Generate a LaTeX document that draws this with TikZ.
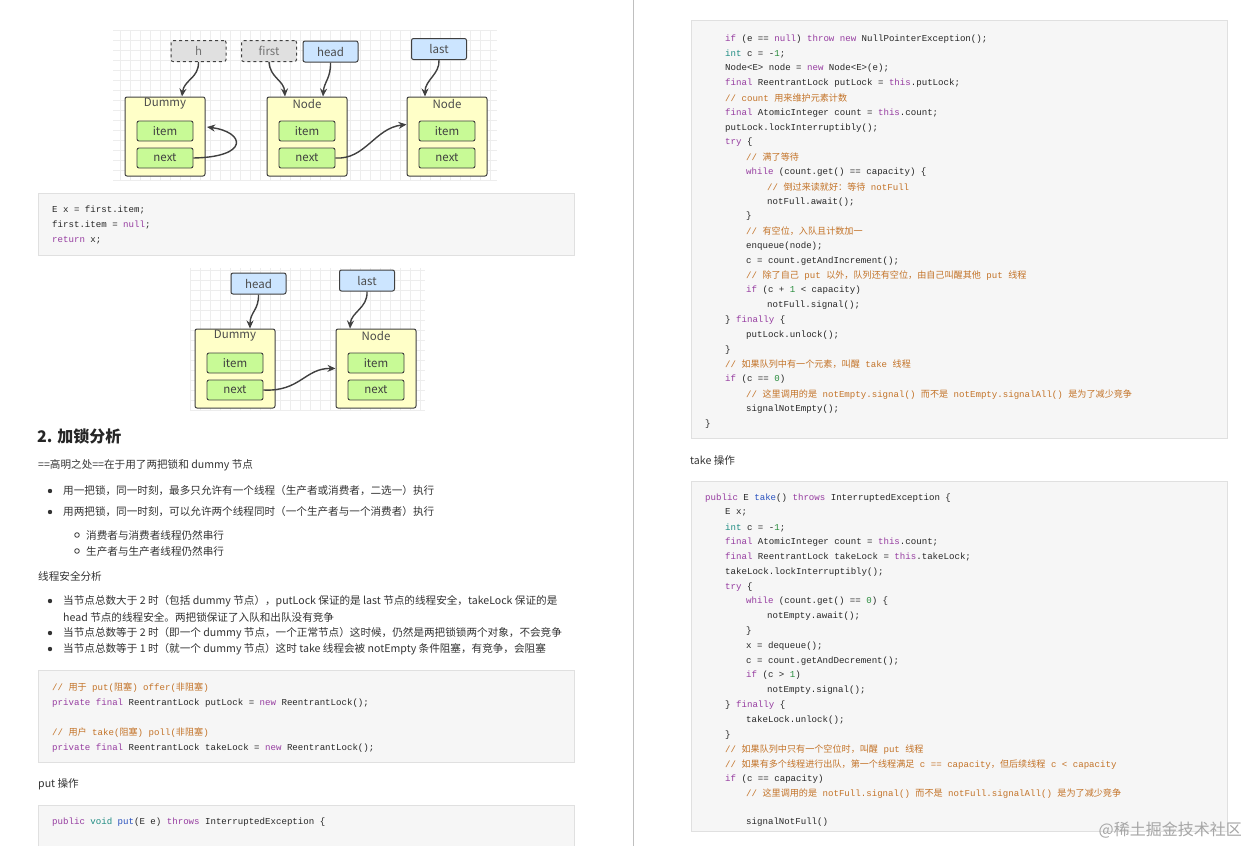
\documentclass[tikz,border=0pt]{standalone}
\usepackage{fontspec}
\setmainfont{Noto Sans CJK SC}
\setmonofont{Liberation Mono}
\newfontfamily\cjk{Noto Sans CJK SC}
\usetikzlibrary{arrows.meta}
\definecolor{kw}{RGB}{150,60,160}
\definecolor{ty}{RGB}{30,140,130}
\definecolor{cm}{RGB}{195,115,40}
\definecolor{fn}{RGB}{40,80,190}
\definecolor{nm}{RGB}{40,140,60}
\definecolor{txt}{RGB}{51,51,51}
\newcommand\zh[1]{{\cjk #1}}
\newcommand\Kw[1]{\textcolor{kw}{#1}}
\newcommand\Ty[1]{\textcolor{ty}{#1}}
\newcommand\Cm[1]{\textcolor{cm}{#1}}
\newcommand\Fn[1]{\textcolor{fn}{#1}}
\newcommand\Nm[1]{\textcolor{nm}{#1}}
\newcounter{ln}
\newcommand\cl[3]{\stepcounter{ln}\edef\myname{cl\arabic{ln}}\node[code] (\myname) at (#1,#2) {#3};}
\newcommand\tl[3]{\stepcounter{ln}\edef\myname{tl\arabic{ln}}\node[body] (\myname) at (#1,#2) {#3};}
\tikzset{
  code/.style={anchor=west,inner sep=0pt,font=\ttfamily\fontsize{9.1}{10}\selectfont,text=black!85},
  body/.style={anchor=west,inner sep=0pt,font=\fontsize{10.6}{11}\selectfont,text=txt},
  ptr/.style={draw=black!75,line width=1pt,rounded corners=2pt,minimum width=55pt,minimum height=21pt,inner sep=0pt,font=\fontsize{11.5}{11}\selectfont,text=black!70},
  ptrd/.style={ptr,dashed,fill=black!12,text=black!55},
  ptrb/.style={ptr,fill={rgb,255:red,204;green,229;blue,255}},
  outer/.style={draw=black!75,line width=1pt,rounded corners=2pt,fill={rgb,255:red,255;green,255;blue,200},minimum width=80pt,minimum height=79pt,inner sep=0pt},
  field/.style={draw=black!75,line width=0.9pt,rounded corners=2pt,fill={rgb,255:red,200;green,250;blue,150},minimum width=56pt,minimum height=20pt,inner sep=0pt,font=\fontsize{11.5}{11}\selectfont,text=black!75},
  ttl/.style={inner sep=0pt,font=\fontsize{11.5}{11}\selectfont,text=black!70},
  arr/.style={draw=black!75,line width=1.4pt,-{Stealth[length=8pt,width=7pt]}},
  box/.style={draw=black!12,fill=black!3.5,line width=1pt},
  grid/.style={draw=black!7,line width=0.4pt}
}
\begin{document}
\begin{tikzpicture}[x=1pt,y=-1pt]
\useasboundingbox (0,0) rectangle (1248,846);
\fill[white] (0,0) rectangle (1248,846);
\draw[black!25,line width=1pt] (633,0) -- (633,846);

% ---------- diagram 1 ----------
\begin{scope}
\clip (113,30) rectangle (497,180);
\draw[grid,step=10pt] (113,30) grid (497,180);
\end{scope}
\node[ptrd] (h) at (198.5,51) {h};
\node[ptrd] (first) at (269,51) {first};
\node[ptrb] (head1) at (330.5,51.5) {head};
\node[ptrb] (last1) at (439,49) {last};
\node[outer] (d1) at (165,136.5) {};
\node[ttl] (d1t) at (165,104) {Dummy};
\node[field] (d1i) at (165,131) {item};
\node[field] (d1n) at (165,158) {next};
\node[outer] (n2) at (307,136.5) {};
\node[ttl] (n2t) at (307,104) {Node};
\node[field] (n2i) at (307,131) {item};
\node[field] (n2n) at (307,158) {next};
\node[outer] (n3) at (447,136.5) {};
\node[ttl] (n3t) at (447,104) {Node};
\node[field] (n3i) at (447,131) {item};
\node[field] (n3n) at (447,158) {next};
\draw[arr] (h.south) .. controls (199,78) and (184,80) .. ([xshift=17pt]d1.north);
\draw[arr] (first.south) .. controls (270,78) and (284,80) .. ([xshift=-22pt]n2.north);
\draw[arr] (head1.south) .. controls (331,78) and (324,82) .. ([xshift=16pt]n2.north);
\draw[arr] (last1.south) .. controls (440,74) and (425,80) .. ([xshift=-22pt]n3.north);
\coordinate (loopEnd) at (207,127);
\draw[arr] (d1n.east) .. controls (250,157) and (245,132) .. (loopEnd);
\draw[arr] (n2n.east) .. controls (365,160) and (375,128) .. ([yshift=12pt]n3.west);

% ---------- code box 1 ----------
\draw[box] (38,193) rectangle (574,255);
\cl{52}{210}{E x = first.item;}
\cl{52}{225}{first.item = \Kw{null};}
\cl{52}{240}{\Kw{return} x;}

% ---------- diagram 2 ----------
\begin{scope}
\clip (190,268) rectangle (425,410);
\draw[grid,step=10pt] (190,268) grid (425,410);
\end{scope}
\node[ptrb] (head2) at (258.5,283.5) {head};
\node[ptrb] (last2) at (367,280.5) {last};
\node[outer] (d2) at (235,368.5) {};
\node[ttl] (d2t) at (235,336) {Dummy};
\node[field] (d2i) at (235,363) {item};
\node[field] (d2n) at (235,390) {next};
\node[outer] (n4) at (376,368.5) {};
\node[ttl] (n4t) at (376,336) {Node};
\node[field] (n4i) at (376,363) {item};
\node[field] (n4n) at (376,390) {next};
\draw[arr] (head2.south) .. controls (259,310) and (250,312) .. ([xshift=15pt]d2.north);
\draw[arr] (last2.south) .. controls (368,308) and (351,312) .. ([xshift=-26pt]n4.north);
\draw[arr] (d2n.east) .. controls (300,392) and (305,368) .. (n4.west);

% ---------- left text ----------
\node[anchor=west,inner sep=0pt,font=\bfseries\fontsize{16}{16}\selectfont,text=black!85] (hd) at (37,436) {2. 加锁分析};
\tl{38}{465}{==高明之处==在于用了两把锁和 dummy 节点}
\fill[txt] (50,491) circle (2.2pt);
\tl{63}{491}{用一把锁，同一时刻，最多只允许有一个线程（生产者或消费者，二选一）执行}
\fill[txt] (50,512) circle (2.2pt);
\tl{63}{512}{用两把锁，同一时刻，可以允许两个线程同时（一个生产者与一个消费者）执行}
\draw[txt,line width=0.8pt] (77,535) circle (2.3pt);
\tl{86}{535}{消费者与消费者线程仍然串行}
\draw[txt,line width=0.8pt] (77,551) circle (2.3pt);
\tl{86}{551}{生产者与生产者线程仍然串行}
\tl{38}{576}{线程安全分析}
\fill[txt] (50,601) circle (2.2pt);
\tl{63}{601}{当节点总数大于 2 时（包括 dummy 节点），putLock 保证的是 last 节点的线程安全，takeLock 保证的是}
\tl{63}{617}{head 节点的线程安全。两把锁保证了入队和出队没有竞争}
\fill[txt] (50,633) circle (2.2pt);
\tl{63}{633}{当节点总数等于 2 时（即一个 dummy 节点，一个正常节点）这时候，仍然是两把锁锁两个对象，不会竞争}
\fill[txt] (50,649) circle (2.2pt);
\tl{63}{649}{当节点总数等于 1 时（就一个 dummy 节点）这时 take 线程会被 notEmpty 条件阻塞，有竞争，会阻塞}

% ---------- code box 2 ----------
\draw[box] (38,670) rectangle (574,762);
\cl{52}{688}{\Cm{// \zh{用于} put(\zh{阻塞}) offer(\zh{非阻塞})}}
\cl{52}{703}{\Kw{private} \Kw{final} ReentrantLock putLock = \Kw{new} ReentrantLock();}
\cl{52}{733}{\Cm{// \zh{用户} take(\zh{阻塞}) poll(\zh{非阻塞})}}
\cl{52}{748}{\Kw{private} \Kw{final} ReentrantLock takeLock = \Kw{new} ReentrantLock();}
\tl{38}{784}{put 操作}
\draw[box] (38,805) rectangle (574,852);
\cl{52}{822}{\Kw{public} \Ty{void} \Fn{put}(E e) \Kw{throws} InterruptedException \{}

% ---------- right code box 1 ----------
\draw[box] (691,20) rectangle (1227,438);
\cl{725}{39}{\Kw{if} (e == \Kw{null}) \Kw{throw} \Kw{new} NullPointerException();}
\cl{725}{53.8}{\Ty{int} c = -\Nm{1};}
\cl{725}{68.6}{Node<E> node = \Kw{new} Node<E>(e);}
\cl{725}{83.4}{\Kw{final} ReentrantLock putLock = \Kw{this}.putLock;}
\cl{725}{98.2}{\Cm{// count \zh{用来维护元素计数}}}
\cl{725}{113}{\Kw{final} AtomicInteger count = \Kw{this}.count;}
\cl{725}{127.8}{putLock.lockInterruptibly();}
\cl{725}{142.6}{\Kw{try} \{}
\cl{746}{157.4}{\Cm{// \zh{满了等待}}}
\cl{746}{172.2}{\Kw{while} (count.get() == capacity) \{}
\cl{767}{187}{\Cm{// \zh{倒过来读就好：等待} notFull}}
\cl{767}{201.8}{notFull.await();}
\cl{746}{216.6}{\}}
\cl{746}{231.4}{\Cm{// \zh{有空位，入队且计数加一}}}
\cl{746}{246.2}{enqueue(node);}
\cl{746}{261}{c = count.getAndIncrement();}
\cl{746}{275.8}{\Cm{// \zh{除了自己} put \zh{以外，队列还有空位，由自己叫醒其他} put \zh{线程}}}
\cl{746}{290.6}{\Kw{if} (c + \Nm{1} < capacity)}
\cl{767}{305.4}{notFull.signal();}
\cl{725}{320.2}{\} \Kw{finally} \{}
\cl{746}{335}{putLock.unlock();}
\cl{725}{349.8}{\}}
\cl{725}{364.6}{\Cm{// \zh{如果队列中有一个元素，叫醒} take \zh{线程}}}
\cl{725}{379.4}{\Kw{if} (c == \Nm{0})}
\cl{746}{394.2}{\Cm{// \zh{这里调用的是} notEmpty.signal() \zh{而不是} notEmpty.signalAll() \zh{是为了减少竞争}}}
\cl{746}{409}{signalNotEmpty();}
\cl{705}{423.8}{\}}

\tl{690}{460}{take 操作}

% ---------- right code box 2 ----------
\draw[box] (691,481) rectangle (1227,831);
\cl{705}{498}{\Kw{public} E \Fn{take}() \Kw{throws} InterruptedException \{}
\cl{725}{512.8}{E x;}
\cl{725}{527.6}{\Ty{int} c = -\Nm{1};}
\cl{725}{542.4}{\Kw{final} AtomicInteger count = \Kw{this}.count;}
\cl{725}{557.2}{\Kw{final} ReentrantLock takeLock = \Kw{this}.takeLock;}
\cl{725}{572}{takeLock.lockInterruptibly();}
\cl{725}{586.8}{\Kw{try} \{}
\cl{746}{601.6}{\Kw{while} (count.get() == \Nm{0}) \{}
\cl{767}{616.4}{notEmpty.await();}
\cl{746}{631.2}{\}}
\cl{746}{646}{x = dequeue();}
\cl{746}{660.8}{c = count.getAndDecrement();}
\cl{746}{675.6}{\Kw{if} (c > \Nm{1})}
\cl{767}{690.4}{notEmpty.signal();}
\cl{725}{705.2}{\} \Kw{finally} \{}
\cl{746}{720}{takeLock.unlock();}
\cl{725}{734.8}{\}}
\cl{725}{749.6}{\Cm{// \zh{如果队列中只有一个空位时，叫醒} put \zh{线程}}}
\cl{725}{764.4}{\Cm{// \zh{如果有多个线程进行出队，第一个线程满足} c == capacity\zh{，但后续线程} c < capacity}}
\cl{725}{779.2}{\Kw{if} (c == capacity)}
\cl{746}{794}{\Cm{// \zh{这里调用的是} notFull.signal() \zh{而不是} notFull.signalAll() \zh{是为了减少竞争}}}
\cl{746}{822}{signalNotFull()}

\node[anchor=east,inner sep=0pt,font=\fontsize{16}{16}\selectfont,text=black!35] (wm) at (1242,830) {@稀土掘金技术社区};
\end{tikzpicture}
\end{document}
